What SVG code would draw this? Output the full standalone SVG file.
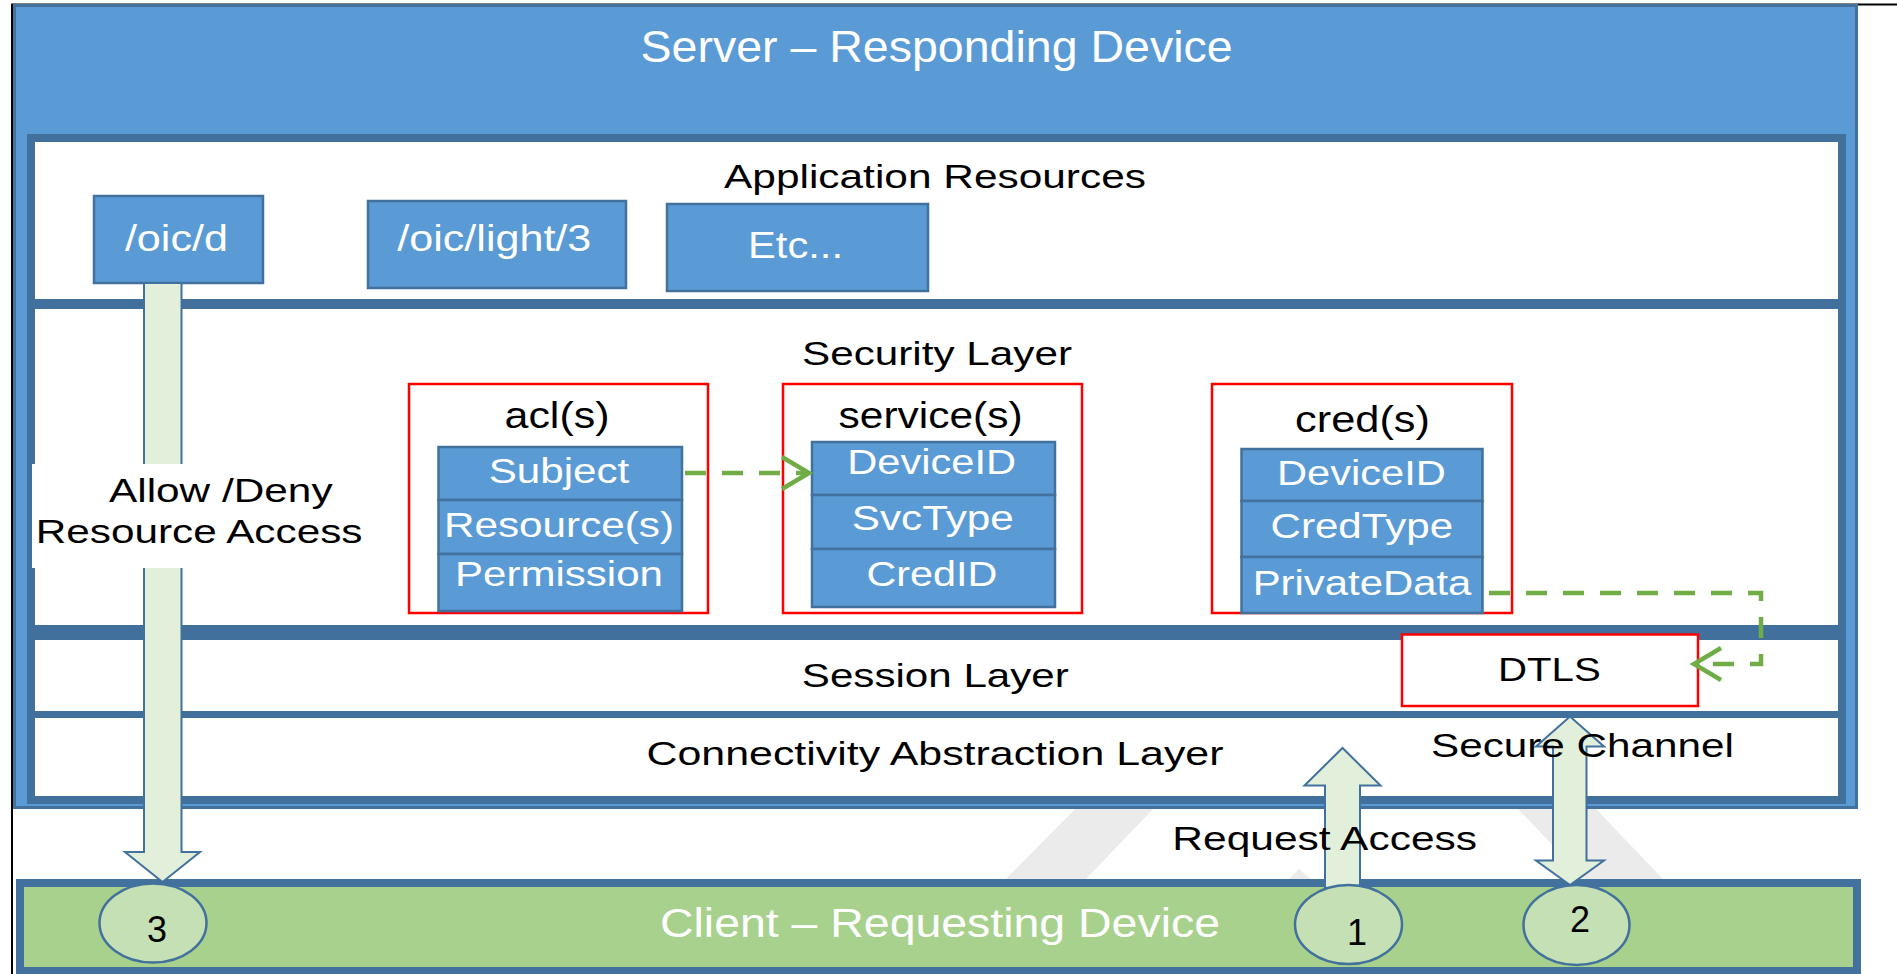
<svg xmlns="http://www.w3.org/2000/svg" width="1897" height="974" viewBox="0 0 1897 974">
<style>
text{font-family:"Liberation Sans",Arial,sans-serif;text-anchor:middle}
.lbl{font-size:34px;fill:#000}
.hd{font-size:36px;fill:#000}
.w{font-size:35px;fill:#fff}
.res{font-size:36px;fill:#fff}
.num{font-size:36px;fill:#000}
.blue{fill:#5B9BD5;stroke:#41719C;stroke-width:2.5}
.red{fill:#fff;stroke:#FF0000;stroke-width:2.5}
.band{fill:#41709C}
.barrow{fill:#E2EFDA;stroke:#41719C;stroke-width:2}
.circ{fill:#C5E0B4;stroke:#41719C;stroke-width:2.5}
.dash{fill:none;stroke:#70AD47;stroke-width:4.5;stroke-dasharray:21 16}
.wm{fill:#EBEBEB}
</style>
<defs>
<marker id="chev" markerUnits="userSpaceOnUse" markerWidth="40" markerHeight="40" refX="30" refY="18" orient="auto">
<path d="M3,2 L30,18 L3,34" fill="none" stroke="#70AD47" stroke-width="4.5"/>
</marker>
</defs>
<rect width="1897" height="974" fill="#fff"/>
<g id="frame">
<line x1="11" y1="4.5" x2="1897" y2="4.5" stroke="#000" stroke-width="2"/>
<line x1="12" y1="4" x2="12" y2="974" stroke="#000" stroke-width="2"/>
</g>
<g id="watermark">
<polygon class="wm" points="1006,879 1086,879 1154,808 1076,808"/>
<polygon class="wm" points="1289,879 1299,869 1311,879"/>
<polygon class="wm" points="1517,808 1595,808 1663,879 1585,879"/>
</g>
<g id="server">
<rect x="14.5" y="5.5" width="1842" height="802" fill="#5B9BD5" stroke="#41719C" stroke-width="3"/>
<text x="936.6" y="62" style="font-size:45px;fill:#fff" textLength="592" lengthAdjust="spacingAndGlyphs">Server – Responding Device</text>
</g>
<g id="layers">
<rect x="31" y="138" width="1811" height="662" fill="#fff" stroke="#41709C" stroke-width="8"/>
<rect class="band" x="35" y="299" width="1803" height="10"/>
<rect class="band" x="35" y="625" width="1803" height="15"/>
<rect class="band" x="35" y="711" width="1803" height="7"/>
<text class="lbl" x="935" y="188" textLength="422" lengthAdjust="spacingAndGlyphs">Application Resources</text>
<text class="lbl" x="937" y="365" textLength="270" lengthAdjust="spacingAndGlyphs">Security Layer</text>
<text class="lbl" x="935.3" y="687.3" textLength="267" lengthAdjust="spacingAndGlyphs">Session Layer</text>
<text class="lbl" x="935" y="765" textLength="577" lengthAdjust="spacingAndGlyphs">Connectivity Abstraction Layer</text>
</g>
<g id="res-oic-d">
<rect class="blue" x="94" y="196" width="169" height="87"/>
<text class="res" x="176.4" y="251" textLength="103" lengthAdjust="spacingAndGlyphs">/oic/d</text>
</g>
<g id="res-oic-light">
<rect class="blue" x="368" y="201" width="258" height="87"/>
<text class="res" x="494.3" y="251" textLength="194" lengthAdjust="spacingAndGlyphs">/oic/light/3</text>
</g>
<g id="res-etc">
<rect class="blue" x="667" y="204" width="261" height="87"/>
<text class="res" x="795.5" y="258" textLength="95" lengthAdjust="spacingAndGlyphs">Etc...</text>
</g>
<g id="acl">
<rect class="red" x="409" y="384" width="299" height="229"/>
<text class="hd" x="557" y="428" textLength="105" lengthAdjust="spacingAndGlyphs">acl(s)</text>
<rect class="blue" x="438.5" y="447" width="243.5" height="53"/>
<rect class="blue" x="438.5" y="500" width="243.5" height="54"/>
<rect class="blue" x="438.5" y="554" width="243.5" height="57"/>
<text class="w" x="559" y="482.7" textLength="140.6" lengthAdjust="spacingAndGlyphs">Subject</text>
<text class="w" x="559" y="536.7" textLength="230" lengthAdjust="spacingAndGlyphs">Resource(s)</text>
<text class="w" x="559" y="586" textLength="208" lengthAdjust="spacingAndGlyphs">Permission</text>
</g>
<g id="service">
<rect class="red" x="783" y="384" width="299" height="229"/>
<text class="hd" x="930.6" y="428" textLength="184" lengthAdjust="spacingAndGlyphs">service(s)</text>
<rect class="blue" x="812" y="442" width="243" height="53"/>
<rect class="blue" x="812" y="495" width="243" height="54"/>
<rect class="blue" x="812" y="549" width="243" height="58"/>
<text class="w" x="931.7" y="474" textLength="168.7" lengthAdjust="spacingAndGlyphs">DeviceID</text>
<text class="w" x="932.8" y="530" textLength="162" lengthAdjust="spacingAndGlyphs">SvcType</text>
<text class="w" x="931.9" y="586" textLength="130.8" lengthAdjust="spacingAndGlyphs">CredID</text>
</g>
<g id="cred">
<rect class="red" x="1212" y="384" width="300" height="229"/>
<text class="hd" x="1362.5" y="432" textLength="135" lengthAdjust="spacingAndGlyphs">cred(s)</text>
<rect class="blue" x="1241.5" y="449" width="241" height="52"/>
<rect class="blue" x="1241.5" y="501" width="241" height="56"/>
<rect class="blue" x="1241.5" y="557" width="241" height="56"/>
<text class="w" x="1361.4" y="485" textLength="168.8" lengthAdjust="spacingAndGlyphs">DeviceID</text>
<text class="w" x="1361.8" y="538.3" textLength="182.5" lengthAdjust="spacingAndGlyphs">CredType</text>
<text class="w" x="1362" y="595" textLength="218.7" lengthAdjust="spacingAndGlyphs">PrivateData</text>
</g>
<g id="dtls">
<rect class="red" x="1402" y="634.5" width="296" height="71.5"/>
<text x="1549.4" y="681" style="font-size:33px;fill:#000" textLength="102.7" lengthAdjust="spacingAndGlyphs">DTLS</text>
</g>
<g id="connectors">
<path class="dash" d="M685,473 H809" marker-end="url(#chev)"/>
<path class="dash" d="M1489,593 H1761 V664 H1694" marker-end="url(#chev)"/>
</g>
<g id="client">
<rect x="20" y="883" width="1837" height="88" fill="#A9D18E" stroke="#41719C" stroke-width="8"/>
<text x="940" y="936.7" style="font-size:40px;fill:#fff" textLength="560" lengthAdjust="spacingAndGlyphs">Client – Requesting Device</text>
</g>
<g id="flow-arrows">
<path class="barrow" d="M144,283 H181.5 V852 H200 L162.5,882 L125,852 H144 Z"/>
<path class="barrow" d="M1325,905 V785.5 H1304.5 L1342.5,748 L1380.5,785.5 H1360 V905 Z"/>
<path class="barrow" d="M1570,716.5 L1604,746.5 H1586.5 V860.5 H1604 L1570,885 L1536,860.5 H1553 V746.5 H1536 Z"/>
</g>
<g id="allow-deny">
<rect x="32" y="464" width="335" height="104" fill="#fff"/>
<text class="lbl" x="220.8" y="501.7" textLength="223.6" lengthAdjust="spacingAndGlyphs">Allow /Deny</text>
<text class="lbl" x="199.1" y="543.3" textLength="326.8" lengthAdjust="spacingAndGlyphs">Resource Access</text>
</g>
<g id="step-3">
<ellipse class="circ" cx="153" cy="923" rx="53.5" ry="39.5"/>
<text class="num" x="157" y="941.7">3</text>
</g>
<g id="step-1">
<ellipse class="circ" cx="1348.5" cy="924.5" rx="53.5" ry="39.5"/>
<text class="num" x="1357" y="945">1</text>
</g>
<g id="step-2">
<ellipse class="circ" cx="1576.5" cy="925" rx="53" ry="40"/>
<text class="num" x="1580" y="931.7">2</text>
</g>
<g id="flow-labels">
<text class="lbl" x="1582.5" y="757.3" textLength="303" lengthAdjust="spacingAndGlyphs">Secure Channel</text>
<text class="lbl" x="1324.7" y="850" textLength="304.7" lengthAdjust="spacingAndGlyphs">Request Access</text>
</g>
</svg>
